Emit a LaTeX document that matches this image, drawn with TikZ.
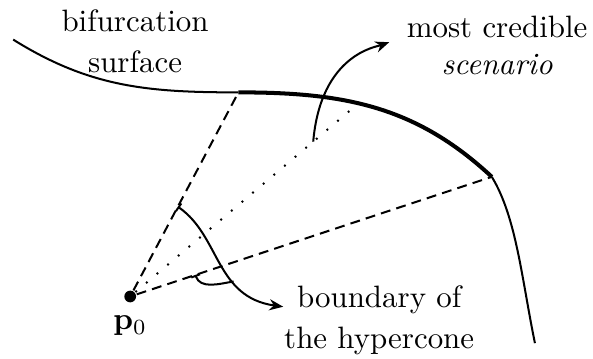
\documentclass[tikz,border=0pt]{standalone}
\usepackage{amsmath}
\usetikzlibrary{arrows.meta, positioning, calc}

\begin{document}
\begin{tikzpicture}[
    >={Stealth[length=4.5pt, width=3.6pt]}, line width=0.65pt,
    dot/.style={circle, fill, inner sep=0pt, minimum size=3.8pt},
    cone/.style={dash pattern=on 3.2pt off 2pt},
    ray/.style={dash pattern=on 0.6pt off 3.9pt},
    caption/.style={align=center, inner sep=0pt}
]
\useasboundingbox (0,0) rectangle (6.74,4.07);

% Points
\node[dot] (p0) at (1.48,0.70) {};
\node[below=0.5pt of p0] (p0lab) {$\mathbf{p}_0$};
\coordinate (s1) at (0.15,3.62);
\coordinate (ca) at (2.71,3.02);
\coordinate (cb) at (5.59,2.06);
\coordinate (s2) at (6.08,0.17);
\coordinate (mc) at (4.08,2.90);

% Labels
\node[caption] (bif) at (1.535,3.60) {bifurcation\\[1pt]surface};
\node[caption] (mcs) at (5.65,3.55) {most credible\\\textit{scenario}};
\node[caption] (bnd) at (4.31,0.43) {boundary of\\[1pt]the hypercone};

% Bifurcation surface
\draw (s1) to[out=-32, in=180] (ca);
\draw[line width=1.3pt] (ca) to[out=0, in=137] (cb);
\draw (cb) .. controls (5.87,1.60) and (5.93,0.90) .. (s2);

% Hypercone
\draw[cone] (p0) -- (ca);
\draw[cone] (p0) -- (cb);
\draw[ray] (p0) -- (mc);

% Arrows
\draw[->, shorten >=2mm] ($(p0)!0.8!(mc)$) .. controls +(85:1) and +(200:0.35) .. (mcs.174);
\draw[{Bar[width=3pt]}->] ($(p0)!0.44!(ca)$) .. controls +(-35:0.59) and +(172:0.78) .. (bnd.172)
    coordinate[pos=0.65] (bj);
\draw[{Bar[width=3pt]}-] ($(p0)!0.18!(cb)$) to[out=-70, in=190] (bj);

\end{tikzpicture}
\end{document}
